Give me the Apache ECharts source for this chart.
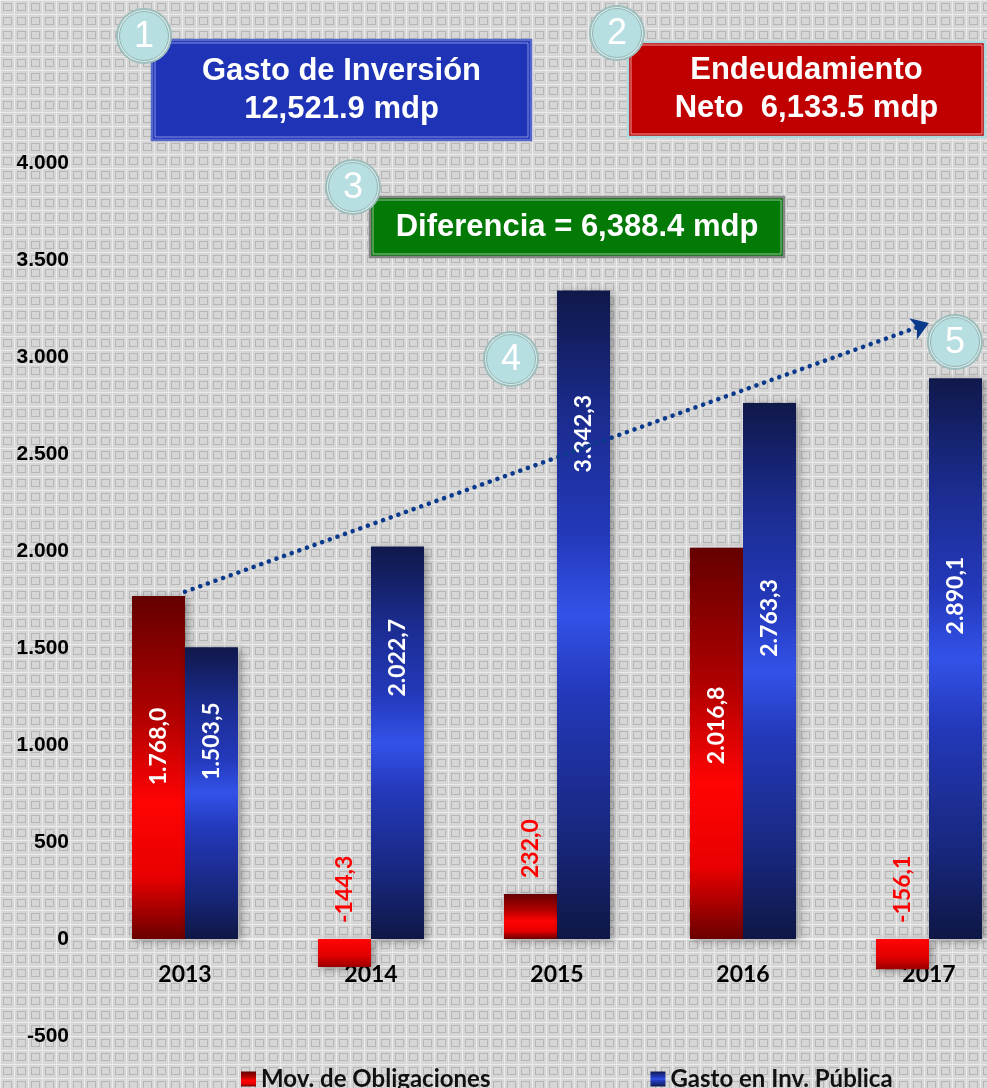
<!DOCTYPE html>
<html>
<head>
<meta charset="utf-8">
<script src="https://cdn.jsdelivr.net/npm/echarts@6/dist/echarts.min.js"></script>
<style>
  html, body { margin: 0; padding: 0; }
  #chart { width: 987px; height: 1088px; }
</style>
</head>
<body>
<div id="chart"></div>
<script>
// datos
var years = ['2013', '2014', '2015', '2016', '2017'];
var movObligaciones = [1768.0, -144.3, 232.0, 2016.8, -156.1];
var gastoInversion = [1503.5, 2022.7, 3342.3, 2763.3, 2890.1];
var trendFrom = 1790;
var trendTo = 3175;

// ajuste vertical de las etiquetas dentro de las barras (px, negativo = arriba)
var redLabelShift = [-21, 0, 0, -18, 0];
var blueLabelShift = [-52, -85, -181, -53, -63];

// fondo con cuadritos
function makePattern() {
  var c = document.createElement('canvas');
  c.width = 14; c.height = 14;
  var g = c.getContext('2d');
  g.fillStyle = '#d6d6d6'; g.fillRect(0, 0, 14, 14);
  g.fillStyle = '#ebebeb'; g.fillRect(0, 0, 14, 1); g.fillRect(0, 0, 1, 14);
  g.strokeStyle = '#b6b6b6'; g.lineWidth = 1; g.strokeRect(3.5, 3.5, 8, 7);
  return c.toDataURL();
}
var el = document.getElementById('chart');
el.style.background = 'url(' + makePattern() + ') repeat #d6d6d6';

function fmt(v) {
  var s = Math.abs(v).toFixed(1).split('.');
  var ent = s[0].replace(/\B(?=(\d{3})+(?!\d))/g, '.');
  return (v < 0 ? '-' : '') + ent + ',' + s[1];
}
function fmtAxis(v) {
  var s = String(Math.abs(v)).replace(/\B(?=(\d{3})+(?!\d))/g, '.');
  return (v < 0 ? '-' : '') + s;
}

function grad(stops) {
  return new echarts.graphic.LinearGradient(0, 0, 0, 1, stops.map(function (s) {
    return { offset: s[0], color: s[1] };
  }));
}
var redGrad = grad([[0, '#650000'], [0.35, '#b00000'], [0.6, '#ff0404'], [0.82, '#e80000'], [1, '#6a0000']]);
var redNeg = grad([[0, '#ff0505'], [0.6, '#e00000'], [1, '#9a0000']]);
var blueGrad = grad([[0, '#10184a'], [0.2, '#1b2c90'], [0.38, '#2439bb'], [0.5, '#3252e8'], [0.62, '#2439bb'], [0.85, '#17267a'], [1, '#0f1745']]);

var labelFont = { fontFamily: 'Lato', fontWeight: 'bold', fontSize: 23 };

// rotate 90: el offset va en coordenadas del texto girado
function insideLabel(shift) {
  return Object.assign({
    show: true, position: 'inside', rotate: 90, align: 'center', verticalAlign: 'middle',
    offset: [-shift, 0], color: '#fff', formatter: function (p) { return fmt(p.value); }
  }, labelFont);
}
var outsideLabel = Object.assign({
  show: true, position: 'top', distance: 16, rotate: 90, align: 'left', verticalAlign: 'middle',
  color: '#ff0000', formatter: function (p) { return fmt(p.value); }
}, labelFont);

var barShadow = { shadowBlur: 8, shadowColor: 'rgba(0,0,0,0.35)', shadowOffsetX: 3, shadowOffsetY: 2 };

function circle(cx, cy, num) {
  return {
    type: 'group', x: cx, y: cy, z: 20,
    children: [
      { type: 'circle', shape: { r: 28 }, style: { fill: '#9dbcbc' } },
      { type: 'circle', shape: { r: 26 }, style: { fill: '#dbefef' } },
      { type: 'circle', shape: { r: 24.5 }, style: { fill: '#b7dfe2', stroke: '#92b3b3', lineWidth: 1 } },
      { type: 'text', style: { text: num, x: 0, y: 1, align: 'center', verticalAlign: 'middle',
        font: '36px "Liberation Sans"', fill: '#fff' } }
    ]
  };
}
function box(x, y, w, h, fill, outer, inner, text) {
  return {
    type: 'group', x: x, y: y, z: 10,
    children: [
      { type: 'rect', shape: { x: 0, y: 0, width: w, height: h }, style: { fill: fill, stroke: outer, lineWidth: 2.5 } },
      { type: 'rect', shape: { x: 3, y: 3, width: w - 6, height: h - 6 }, style: { fill: 'none', stroke: inner, lineWidth: 1 } },
      { type: 'text', style: { text: text, x: w / 2, y: h / 2, align: 'center', verticalAlign: 'middle',
        font: 'bold 31px "Liberation Sans"', lineHeight: 38, fill: '#fff' } }
    ]
  };
}

var chart = echarts.init(el, null, { renderer: 'canvas' });
chart.setOption({
  backgroundColor: 'transparent',
  animation: false,
  grid: { left: 92, top: 163, width: 930, height: 873, outerBoundsMode: 'none' },
  legend: {
    left: 236, top: 1062, icon: 'rect', itemWidth: 15, itemHeight: 15, itemGap: 160,
    textStyle: { fontFamily: 'Lato', fontWeight: 'bold', fontSize: 24, color: '#111' },
    data: ['Mov. de Obligaciones', 'Gasto en Inv. Pública']
  },
  xAxis: {
    type: 'category', data: years,
    axisTick: { show: false },
    axisLine: { lineStyle: { color: '#f2f2f2', width: 2 } },
    // las etiquetas se quedan abajo del grid; se suben hasta la línea del cero
    axisLabel: { margin: -73, fontFamily: 'Lato', fontWeight: 'bold', fontSize: 23, color: '#000' }
  },
  yAxis: {
    type: 'value', min: -500, max: 4000, interval: 500,
    axisLine: { show: false }, axisTick: { show: false }, splitLine: { show: false },
    axisLabel: { margin: 23, fontFamily: 'Liberation Sans', fontWeight: 'bold', fontSize: 21, color: '#000',
      formatter: fmtAxis }
  },
  series: [
    {
      name: 'Mov. de Obligaciones', type: 'bar', barWidth: 53, barGap: '0%',
      itemStyle: Object.assign({ color: redGrad }, barShadow),
      data: movObligaciones.map(function (v, i) {
        return {
          value: v,
          itemStyle: { color: v < 0 ? redNeg : redGrad },
          label: v > 1000 ? insideLabel(redLabelShift[i]) : outsideLabel
        };
      })
    },
    {
      name: 'Gasto en Inv. Pública', type: 'bar', barWidth: 53, barGap: '0%',
      itemStyle: Object.assign({ color: blueGrad }, barShadow),
      data: gastoInversion.map(function (v, i) {
        return { value: v, label: insideLabel(blueLabelShift[i]) };
      })
    },
    {
      // serie vacía solo para la flecha punteada (centrada en cada año)
      name: 'tendencia', type: 'line', data: [], silent: true, z: 30,
      markLine: {
        silent: true, symbol: ['none', 'arrow'], symbolSize: 17,
        label: { show: false },
        lineStyle: { color: '#0b3a8c', width: 4.5, type: [0.1, 8], cap: 'round', opacity: 1 },
        emphasis: { disabled: true },
        data: [[{ coord: [years[0], trendFrom] }, { coord: [years[4], trendTo] }]]
      }
    }
  ],
  graphic: [
    box(152, 40, 379, 100, '#1f33b6', '#5566cc', 'rgba(200,210,255,0.6)', 'Gasto de Inversión\n12,521.9 mdp'),
    box(628, 42, 357, 95, '#c00000', '#acd9dd', 'rgba(255,220,220,0.7)', 'Endeudamiento\nNeto  6,133.5 mdp'),
    box(370, 197, 414, 60, '#037a06', '#858585', 'rgba(220,220,220,0.7)', 'Diferencia = 6,388.4 mdp'),
    circle(144, 36, '1'),
    circle(617, 33, '2'),
    circle(353, 187, '3'),
    circle(511, 359, '4'),
    circle(955, 342, '5')
  ]
});
</script>
</body>
</html>
